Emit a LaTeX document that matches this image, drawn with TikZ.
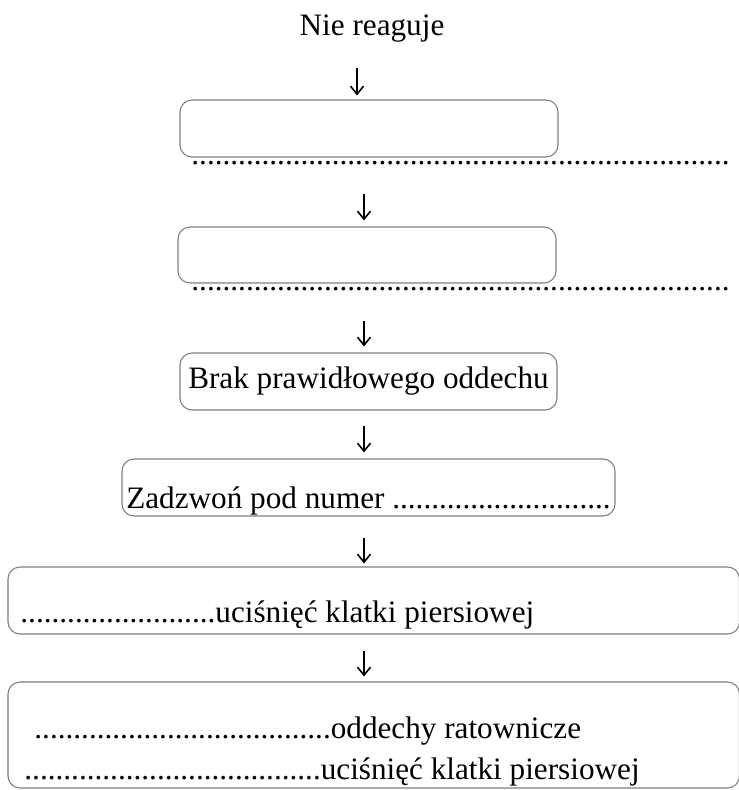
\documentclass[tikz,border=0pt]{standalone}
\usepackage{fontspec}
\setmainfont{Liberation Serif}
\usetikzlibrary{arrows.meta}
\newcommand{\kropki}[1]{\foreach\kr in {1,...,#1}{.}}

\begin{document}
\begin{tikzpicture}[x=0.5pt, y=-0.5pt, font=\fontsize{15.6pt}{20.5pt}\selectfont,
    ramka/.style={draw=black!50, line width=0.55pt, rounded corners=6pt, inner sep=0pt},
    strzalka/.style={line width=0.8pt, -{Straight Barb[length=4pt,width=6.5pt]}},
    napis/.style={inner sep=0pt}]
    \useasboundingbox (0,0) rectangle (738,790);
    \coordinate (os1) at (357,0);
    \coordinate (os) at (364,0);
    \node[napis, anchor=base] (tytul) at (372,36) {Nie reaguje};
    \node[ramka, minimum width=189pt, minimum height=28.5pt] (r1) at (369,128.5) {};
    \node[napis, anchor=base west] (k1) at (191,165) {\kropki{69}};
    \node[ramka, minimum width=189pt, minimum height=28pt] (r2) at (367,255) {};
    \node[napis, anchor=base west] (k2) at (191,291) {\kropki{69}};
    \node[ramka, minimum width=188.5pt, minimum height=28.5pt] (r3) at (368.5,381.5) {Brak prawidłowego oddechu};
    \node[ramka, minimum width=246.5pt, minimum height=28.5pt, text height=20.5pt, text depth=0pt] (r4) at (368.5,487.5) {Zadzwoń pod numer \kropki{28}};
    \node[ramka, minimum width=365.75pt, minimum height=33.5pt] (r5) at (373.75,600.5) {};
    \node[napis, anchor=base west] (t5) at (20,622) {\kropki{25}uciśnięć klatki piersiowej};
    \node[ramka, minimum width=365.75pt, minimum height=53pt] (r6) at (373.75,735) {};
    \node[napis, anchor=base west] (t6a) at (34,738) {\kropki{38}oddechy ratownicze};
    \node[napis, anchor=base west] (t6b) at (24,779) {\kropki{38}uciśnięć klatki piersiowej};
    \draw[strzalka, shorten <=12.5pt, shorten >=2pt] (tytul.south -| os1) -- (r1.north -| os1);
    \draw[strzalka, shorten <=14pt, shorten >=3pt] (k1.south -| os) -- (r2.north -| os);
    \draw[strzalka, shorten <=14.5pt, shorten >=3pt] (k2.south -| os) -- (r3.north -| os);
    \draw[strzalka, shorten <=7.5pt, shorten >=3pt] (r3.south -| os) -- (r4.north -| os);
    \draw[strzalka, shorten <=10.5pt, shorten >=1.5pt] (r4.south -| os) -- (r5.north -| os);
    \draw[strzalka, shorten <=8pt, shorten >=2.5pt] (r5.south -| os) -- (r6.north -| os);
\end{tikzpicture}
\end{document}
